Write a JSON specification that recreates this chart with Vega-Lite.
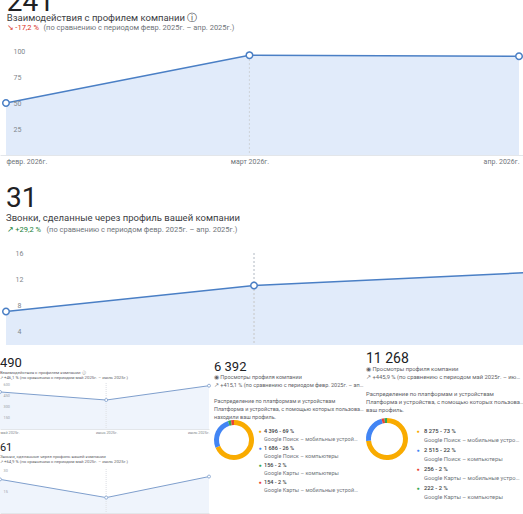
{
  "$schema": "https://vega.github.io/schema/vega-lite/v6.json",
  "background": "white",
  "padding": {"left": -4, "top": -12, "right": 0, "bottom": 0},
  "config": {
    "view": {"stroke": null},
    "font": "Roboto",
    "title": {"anchor": "start", "font": "Roboto", "fontWeight": 400, "color": "#202124", "subtitleFont": "Roboto", "subtitleColor": "#3c4043"},
    "axis": {"labelFont": "Roboto", "titleFont": "Roboto", "grid": false, "ticks": false, "tickSize": 0, "domain": false, "labelOverlap": false}
  },
  "datasets": {
    "q1_interactions": [
      {"date": "2026-02-01", "value": 50},
      {"date": "2026-03-01", "value": 96},
      {"date": "2026-04-01", "value": 95}
    ],
    "q1_calls": [
      {"date": "2026-02-01", "value": 7},
      {"date": "2026-03-01", "value": 11},
      {"date": "2026-04-01", "value": 13}
    ],
    "q2_interactions": [
      {"date": "2025-05-01", "value": 505},
      {"date": "2025-06-01", "value": 395},
      {"date": "2025-07-01", "value": 590}
    ],
    "q2_calls": [
      {"date": "2025-05-01", "value": 24},
      {"date": "2025-06-01", "value": 11},
      {"date": "2025-07-01", "value": 26}
    ],
    "q1_views": [
      {"platform": "Google Поиск – мобильные устройства", "count": 4396, "label": "4 396 - 69 %"},
      {"platform": "Google Поиск – компьютеры", "count": 1686, "label": "1 686 - 26 %"},
      {"platform": "Google Карты – компьютеры", "count": 156, "label": "156 - 2 %"},
      {"platform": "Google Карты – мобильные устройства", "count": 154, "label": "154 - 2 %"}
    ],
    "q2_views": [
      {"platform": "Google Поиск – мобильные устройства", "count": 8275, "label": "8 275 - 73 %"},
      {"platform": "Google Поиск – компьютеры", "count": 2515, "label": "2 515 - 22 %"},
      {"platform": "Google Карты – мобильные устройства", "count": 256, "label": "256 - 2 %"},
      {"platform": "Google Карты – компьютеры", "count": 222, "label": "222 - 2 %"}
    ]
  },
  "spacing": 0,
  "vconcat": [
    {
      "spacing": 20,
      "vconcat": [
        {
          "data": {"name": "q1_interactions"},
          "width": 523,
          "height": 104,
          "title": {"text": "241", "fontSize": 28, "dx": 7, "subtitle": "Взаимодействия с профилем компании ⓘ", "subtitleFontSize": 9.5, "subtitlePadding": -4, "offset": 1},
          "resolve": {"axis": {"y": "independent"}},
          "layer": [
            {
              "mark": {"type": "area", "color": "#e1ebfa"},
              "encoding": {
                "x": {
                  "field": "date", "type": "temporal",
                  "scale": {"type": "utc", "domain": [{"year": 2026, "month": 1, "date": 31, "hours": 7, "minutes": 29, "utc": true}, {"year": 2026, "month": 4, "date": 1, "hours": 11, "utc": true}]},
                  "axis": {
                    "zindex": 1, "labelOverlap": false,
                    "values": [{"year": 2026, "month": 2, "date": 1, "utc": true}, {"year": 2026, "month": 3, "date": 1, "utc": true}, {"year": 2026, "month": 4, "date": 1, "utc": true}],
                    "labelExpr": "['янв.','февр.','март','апр.','май','июнь','июль','авг.','сент.','окт.','нояб.','дек.'][utcmonth(datum.value)] + ' ' + utcyear(datum.value) + 'г.'",
                    "labelFlush": false,
                    "labelAlign": {"condition": [{"test": "datum.value < utc(2026,1,15)", "value": "left"}, {"test": "datum.value > utc(2026,2,15)", "value": "right"}], "value": "center"},
                    "labelFontSize": 7, "labelColor": "#70757a", "labelPadding": 2,
                    "domain": true, "domainColor": "#e3e6ea",
                    "title": "↘ -17,2 %", "titleColor": "#d93025", "titleFontSize": 7.5, "titleFontWeight": "normal",
                    "titleX": 6, "titleY": -128, "titleAlign": "left", "titleBaseline": "middle"
                  }
                },
                "y": {
                  "field": "value", "type": "quantitative",
                  "scale": {"domain": [0, 100], "nice": false},
                  "axis": {
                    "orient": "left", "zindex": 1, "labelOverlap": false,
                    "values": [25, 100], "labelAlign": "left", "labelPadding": -13, "labelFontSize": 7, "labelColor": "#80868b", "labelBaseline": "middle",
                    "title": "(по сравнению с периодом февр. 2025г. – апр. 2025г.)", "titleAngle": 0, "titleX": 43, "titleY": -24, "titleAlign": "left", "titleBaseline": "middle",
                    "titleColor": "#70757a", "titleFontSize": 7.5, "titleFontWeight": "normal"
                  }
                }
              }
            },
            {
              "mark": {"type": "rule", "color": "#d2d6dc", "strokeDash": [2, 2], "strokeWidth": 1},
              "encoding": {"x": {"datum": {"year": 2026, "month": 3, "date": 1, "utc": true}, "type": "temporal"}}
            },
            {
              "mark": {"type": "line", "color": "#4a7fc5", "strokeWidth": 1.5},
              "encoding": {
                "x": {"field": "date", "type": "temporal"},
                "y": {"field": "value", "type": "quantitative", "axis": {"orient": "left", "zindex": 1, "labelOverlap": false, "values": [50, 75], "labelAlign": "left", "labelPadding": -13, "labelFontSize": 7, "labelColor": "#80868b", "labelBaseline": "middle", "title": null}}
              }
            },
            {
              "mark": {"type": "point", "filled": true, "fill": "white", "stroke": "#4a7fc5", "strokeWidth": 1.5, "size": 42, "opacity": 1},
              "encoding": {"x": {"field": "date", "type": "temporal"}, "y": {"field": "value", "type": "quantitative", "axis": null}}
            }
          ]
        },
        {
          "data": {"name": "q1_calls"},
          "width": 523,
          "height": 92,
          "title": {"text": "31", "fontSize": 28, "dx": 6, "subtitle": "Звонки, сделанные через профиль вашей компании", "subtitleFontSize": 9.5, "subtitlePadding": 0, "offset": 3},
          "resolve": {"axis": {"y": "independent"}},
          "layer": [
            {
              "mark": {"type": "area", "color": "#e1ebfa", "clip": true},
              "encoding": {
                "x": {
                  "field": "date", "type": "temporal",
                  "scale": {"type": "utc", "domain": [{"year": 2026, "month": 1, "date": 31, "hours": 7, "minutes": 44, "utc": true}, {"year": 2026, "month": 3, "date": 31, "hours": 8, "minutes": 53, "utc": true}]},
                  "axis": {
                    "zindex": 1,
                    "labels": false,
                    "title": "↗ +29,2 %", "titleColor": "#188038", "titleFontSize": 7.5, "titleFontWeight": "normal",
                    "titleX": 6, "titleY": -116, "titleAlign": "left", "titleBaseline": "middle"
                  }
                },
                "y": {
                  "field": "value", "type": "quantitative",
                  "scale": {"domain": [1.85, 16], "nice": false, "zero": false},
                  "axis": {
                    "orient": "left", "zindex": 1, "labelOverlap": false,
                    "values": [4, 16], "labelAlign": "center", "labelPadding": -19, "labelFontSize": 7, "labelColor": "#80868b", "labelBaseline": "middle",
                    "title": "(по сравнению с периодом февр. 2025г. – апр. 2025г.)", "titleAngle": 0, "titleX": 46, "titleY": -24, "titleAlign": "left", "titleBaseline": "middle",
                    "titleColor": "#70757a", "titleFontSize": 7.5, "titleFontWeight": "normal"
                  }
                }
              }
            },
            {
              "mark": {"type": "rule", "color": "#d2d6dc", "strokeDash": [2, 2], "strokeWidth": 1},
              "encoding": {"x": {"datum": {"year": 2026, "month": 3, "date": 1, "utc": true}, "type": "temporal"}}
            },
            {
              "mark": {"type": "line", "color": "#4a7fc5", "strokeWidth": 1.5, "clip": true},
              "encoding": {
                "x": {"field": "date", "type": "temporal"},
                "y": {"field": "value", "type": "quantitative", "axis": {"orient": "left", "zindex": 1, "labelOverlap": false, "values": [8, 12], "labelAlign": "center", "labelPadding": -19, "labelFontSize": 7, "labelColor": "#80868b", "labelBaseline": "middle", "title": null}}
              }
            },
            {
              "mark": {"type": "point", "filled": true, "fill": "white", "stroke": "#4a7fc5", "strokeWidth": 1.5, "size": 42, "opacity": 1, "clip": true},
              "encoding": {"x": {"field": "date", "type": "temporal"}, "y": {"field": "value", "type": "quantitative", "axis": null}}
            }
          ]
        }
      ]
    },
    {
      "concat": [
        {
          "spacing": 6,
          "vconcat": [
            {
              "data": {"name": "q2_interactions"},
              "width": 209,
              "height": 46,
              "title": {"text": ["\u200b", "490"], "lineHeight": 10, "fontSize": 13, "dx": 3, "subtitle": ["Взаимодействия с профилем компании ⓘ", "↗ +46,1 %  (по сравнению с периодом май 2025г. – июль 2025г.)"], "subtitleFontSize": 4.3, "subtitleLineHeight": 5.5, "subtitleColor": "#5f6368", "subtitlePadding": 1, "offset": 2},
              "resolve": {"axis": {"y": "independent"}},
              "layer": [
                {
                  "mark": {"type": "area", "color": "#eff4fc"},
                  "encoding": {
                    "x": {
                      "field": "date", "type": "temporal",
                      "scale": {"type": "utc", "domain": [{"year": 2025, "month": 5, "date": 1, "utc": true}, {"year": 2025, "month": 7, "date": 1, "utc": true}]},
                      "axis": {
                        "zindex": 1, "labelOverlap": false,
                        "values": [{"year": 2025, "month": 5, "date": 1, "utc": true}, {"year": 2025, "month": 6, "date": 1, "utc": true}, {"year": 2025, "month": 7, "date": 1, "utc": true}],
                        "labelExpr": "['янв.','февр.','март','апр.','май','июнь','июль','авг.','сент.','окт.','нояб.','дек.'][utcmonth(datum.value)] + ' ' + utcyear(datum.value) + 'г.'",
                        "labelFlush": false,
                        "labelAlign": {"condition": [{"test": "datum.value < utc(2025,4,15)", "value": "left"}, {"test": "datum.value > utc(2025,5,15)", "value": "right"}], "value": "center"},
                        "labelFontSize": 3.8, "labelColor": "#80868b", "labelPadding": 1.5,
                        "domain": true, "domainColor": "#e3e6ea", "title": null
                      }
                    },
                    "y": {
                      "field": "value", "type": "quantitative",
                      "scale": {"domain": [0, 627], "nice": false},
                      "axis": {"orient": "left", "zindex": 1, "labelOverlap": false, "values": [150, 600], "labelAlign": "left", "labelPadding": -3, "labelFontSize": 3.8, "labelColor": "#9aa0a6", "labelBaseline": "middle", "title": null}
                    }
                  }
                },
                {
                  "mark": {"type": "rule", "color": "#e3e6ea", "strokeDash": [1, 1], "strokeWidth": 0.6},
                  "encoding": {"x": {"datum": {"year": 2025, "month": 6, "date": 1, "utc": true}, "type": "temporal"}}
                },
                {
                  "mark": {"type": "line", "color": "#7f9fcd", "strokeWidth": 1},
                  "encoding": {
                    "x": {"field": "date", "type": "temporal"},
                    "y": {"field": "value", "type": "quantitative", "axis": {"orient": "left", "zindex": 1, "labelOverlap": false, "values": [300, 450], "labelAlign": "left", "labelPadding": -3, "labelFontSize": 3.8, "labelColor": "#9aa0a6", "labelBaseline": "middle", "title": null}}
                  }
                },
                {
                  "mark": {"type": "point", "filled": true, "fill": "white", "stroke": "#7f9fcd", "strokeWidth": 0.8, "size": 9, "opacity": 1},
                  "encoding": {"x": {"field": "date", "type": "temporal"}, "y": {"field": "value", "type": "quantitative", "axis": null}}
                }
              ]
            },
            {
              "data": {"name": "q2_calls"},
              "width": 209,
              "height": 44,
              "title": {"text": "61", "fontSize": 11, "dx": 3, "subtitle": ["Звонки, сделанные через профиль вашей компании", "↗ +64,9 %  (по сравнению с периодом май 2025г. – июль 2025г.)"], "subtitleFontSize": 4.3, "subtitleLineHeight": 5.5, "subtitleColor": "#5f6368", "subtitlePadding": 2, "offset": 4},
              "layer": [
                {
                  "mark": {"type": "area", "color": "#eff4fc"},
                  "encoding": {
                    "x": {
                      "field": "date", "type": "temporal",
                      "scale": {"type": "utc", "domain": [{"year": 2025, "month": 5, "date": 1, "utc": true}, {"year": 2025, "month": 7, "date": 1, "utc": true}]},
                      "axis": {
                        "zindex": 1, "labelOverlap": false,
                        "values": [{"year": 2025, "month": 5, "date": 1, "utc": true}, {"year": 2025, "month": 6, "date": 1, "utc": true}, {"year": 2025, "month": 7, "date": 1, "utc": true}],
                        "labelExpr": "['янв.','февр.','март','апр.','май','июнь','июль','авг.','сент.','окт.','нояб.','дек.'][utcmonth(datum.value)] + ' ' + utcyear(datum.value) + 'г.'",
                        "labelFlush": false,
                        "labelAlign": {"condition": [{"test": "datum.value < utc(2025,4,15)", "value": "left"}, {"test": "datum.value > utc(2025,5,15)", "value": "right"}], "value": "center"},
                        "labelFontSize": 3.8, "labelColor": "#80868b", "labelPadding": 1.5,
                        "domain": true, "domainColor": "#e3e6ea", "title": null
                      }
                    },
                    "y": {
                      "field": "value", "type": "quantitative",
                      "scale": {"domain": [0, 31.4], "nice": false},
                      "axis": {"zindex": 1, "labelOverlap": false, "values": [15, 30], "labelAlign": "left", "labelPadding": -3, "labelFontSize": 3.8, "labelColor": "#9aa0a6", "labelBaseline": "middle", "title": null}
                    }
                  }
                },
                {
                  "mark": {"type": "rule", "color": "#e3e6ea", "strokeDash": [1, 1], "strokeWidth": 0.6},
                  "encoding": {"x": {"datum": {"year": 2025, "month": 6, "date": 1, "utc": true}, "type": "temporal"}}
                },
                {
                  "mark": {"type": "line", "color": "#7f9fcd", "strokeWidth": 1},
                  "encoding": {"x": {"field": "date", "type": "temporal"}, "y": {"field": "value", "type": "quantitative"}}
                },
                {
                  "mark": {"type": "point", "filled": true, "fill": "white", "stroke": "#7f9fcd", "strokeWidth": 0.8, "size": 9, "opacity": 1},
                  "encoding": {"x": {"field": "date", "type": "temporal"}, "y": {"field": "value", "type": "quantitative"}}
                }
              ]
            }
          ]
        },
        {
          "spacing": 4,
          "title": {
            "text": "6 392", "fontSize": 13,
            "subtitle": ["◉ Просмотры профиля компании", "↗ +415,1 %  (по сравнению с периодом февр. 2025г. – апр. 2025г.)", "\u200b", "Распределение по платформам и устройствам", "Платформа и устройства, с помощью которых пользователи", "находили ваш профиль."],
            "subtitleFontSize": 5.5, "subtitleLineHeight": 8, "subtitleColor": "#5f6368", "subtitlePadding": 1, "limit": 151, "offset": -37
          },
          "hconcat": [
            {
              "data": {"name": "q1_views"},
              "width": 40,
              "height": 114,
              "mark": {"type": "arc", "outerRadius": 20, "innerRadius": 15},
              "encoding": {
                "theta": {"field": "count", "type": "quantitative", "stack": true},
                "order": {"field": "count", "sort": "descending"},
                "color": {"field": "platform", "type": "nominal", "legend": null,
                  "scale": {"domain": ["Google Поиск – мобильные устройства", "Google Поиск – компьютеры", "Google Карты – компьютеры", "Google Карты – мобильные устройства"], "range": ["#f9ab00", "#4285f4", "#34a853", "#ea4335"]}}
              }
            },
            {
              "data": {"name": "q1_views"},
              "width": 4,
              "height": 114,
              "encoding": {
                "y": {"field": "platform", "type": "nominal", "sort": {"field": "count", "op": "sum", "order": "descending"}, "scale": {"type": "point", "range": [43, 111]}, "axis": null}
              },
              "layer": [
                {
                  "mark": {"type": "text", "text": "●", "fontSize": 5, "dy": -4, "align": "center"},
                  "encoding": {"color": {"field": "platform", "type": "nominal", "legend": null,
                    "scale": {"domain": ["Google Поиск – мобильные устройства", "Google Поиск – компьютеры", "Google Карты – компьютеры", "Google Карты – мобильные устройства"], "range": ["#f9ab00", "#4285f4", "#34a853", "#ea4335"]}}}
                },
                {
                  "mark": {"type": "text", "align": "left", "dx": 4, "dy": -4, "fontSize": 5.5, "fontWeight": 500, "color": "#3c4043", "limit": 94},
                  "encoding": {"text": {"field": "label"}}
                },
                {
                  "mark": {"type": "text", "align": "left", "dx": 4, "dy": 4.5, "fontSize": 5.5, "color": "#70757a", "limit": 94},
                  "encoding": {"text": {"field": "platform"}}
                }
              ]
            }
          ]
        },
        {
          "spacing": 8,
          "title": {
            "text": "11 268", "fontSize": 14,
            "subtitle": ["◉ Просмотры профиля компании", "↗ +445,9 %  (по сравнению с периодом май 2025г. – июль 2025г.)", "\u200b", "Распределение по платформам и устройствам", "Платформа и устройства, с помощью которых пользователи находили", "ваш профиль."],
            "subtitleFontSize": 5.8, "subtitleLineHeight": 8.3, "subtitleColor": "#5f6368", "subtitlePadding": 0, "limit": 158, "offset": -30
          },
          "hconcat": [
            {
              "data": {"name": "q2_views"},
              "width": 42,
              "height": 112,
              "mark": {"type": "arc", "outerRadius": 21, "innerRadius": 16},
              "encoding": {
                "theta": {"field": "count", "type": "quantitative", "stack": true},
                "order": {"field": "count", "sort": "descending"},
                "color": {"field": "platform", "type": "nominal", "legend": null,
                  "scale": {"domain": ["Google Поиск – мобильные устройства", "Google Поиск – компьютеры", "Google Карты – компьютеры", "Google Карты – мобильные устройства"], "range": ["#f9ab00", "#4285f4", "#34a853", "#ea4335"]}}
              }
            },
            {
              "data": {"name": "q2_views"},
              "width": 4,
              "height": 112,
              "encoding": {
                "y": {"field": "platform", "type": "nominal", "sort": {"field": "count", "op": "sum", "order": "descending"}, "scale": {"type": "point", "range": [43, 119]}, "axis": null}
              },
              "layer": [
                {
                  "mark": {"type": "text", "text": "●", "fontSize": 5, "dy": -4.3, "align": "center"},
                  "encoding": {"color": {"field": "platform", "type": "nominal", "legend": null,
                    "scale": {"domain": ["Google Поиск – мобильные устройства", "Google Поиск – компьютеры", "Google Карты – компьютеры", "Google Карты – мобильные устройства"], "range": ["#f9ab00", "#4285f4", "#34a853", "#ea4335"]}}}
                },
                {
                  "mark": {"type": "text", "align": "left", "dx": 6, "dy": -4.3, "fontSize": 5.8, "fontWeight": 500, "color": "#3c4043", "limit": 98},
                  "encoding": {"text": {"field": "label"}}
                },
                {
                  "mark": {"type": "text", "align": "left", "dx": 6, "dy": 4.5, "fontSize": 5.8, "color": "#70757a", "limit": 98},
                  "encoding": {"text": {"field": "platform"}}
                }
              ]
            }
          ]
        }
      ],
      "columns": 3,
      "align": "none",
      "spacing": 1
    }
  ]
}
